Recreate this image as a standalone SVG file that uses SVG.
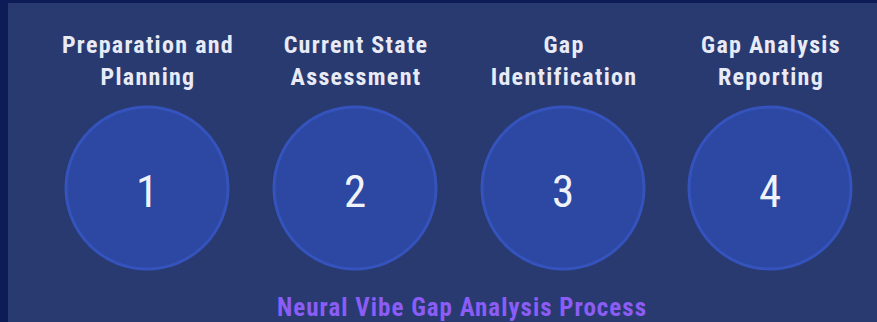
<svg xmlns="http://www.w3.org/2000/svg" width="877" height="322" viewBox="0 0 877 322">
<style>
.bg{fill:#0d1b56}
.panel{fill:#283a70}
.step{fill:#2c48a2;stroke:#3553bd;stroke-width:3}
.lbl{font-family:"Roboto Condensed","Liberation Sans Narrow","Liberation Sans",sans-serif;font-weight:bold;font-size:24px;letter-spacing:1.3px;fill:#e8eaf6;text-anchor:middle}
.num{font-family:"Roboto Condensed",Roboto,"Liberation Sans",sans-serif;font-weight:400;font-size:45px;fill:#f0f2fa;text-anchor:middle}
.title{font-family:"Roboto Condensed","Liberation Sans Narrow","Liberation Sans",sans-serif;font-weight:bold;font-size:25px;letter-spacing:1px;fill:#8b5cf6;text-anchor:middle}
</style>
<rect class="bg" x="0" y="0" width="877" height="322"/>
<rect class="panel" x="8" y="3" width="869" height="319"/>
<g id="step1">
<text class="lbl" x="148" y="53">Preparation and</text>
<text class="lbl" x="148" y="85">Planning</text>
<circle class="step" cx="147" cy="188" r="81"/>
<text class="num" x="147" y="207">1</text>
</g>
<g id="step2">
<text class="lbl" x="356" y="53">Current State</text>
<text class="lbl" x="356" y="85">Assessment</text>
<circle class="step" cx="355" cy="188" r="81"/>
<text class="num" x="355" y="207">2</text>
</g>
<g id="step3">
<text class="lbl" x="564" y="53">Gap</text>
<text class="lbl" x="564" y="85">Identification</text>
<circle class="step" cx="563" cy="188" r="81"/>
<text class="num" x="563" y="207">3</text>
</g>
<g id="step4">
<text class="lbl" x="771" y="53">Gap Analysis</text>
<text class="lbl" x="771" y="85">Reporting</text>
<circle class="step" cx="770" cy="188" r="81"/>
<text class="num" x="770" y="207">4</text>
</g>
<g id="connectors"></g>
<text class="title" x="462" y="316">Neural Vibe Gap Analysis Process</text>
</svg>
